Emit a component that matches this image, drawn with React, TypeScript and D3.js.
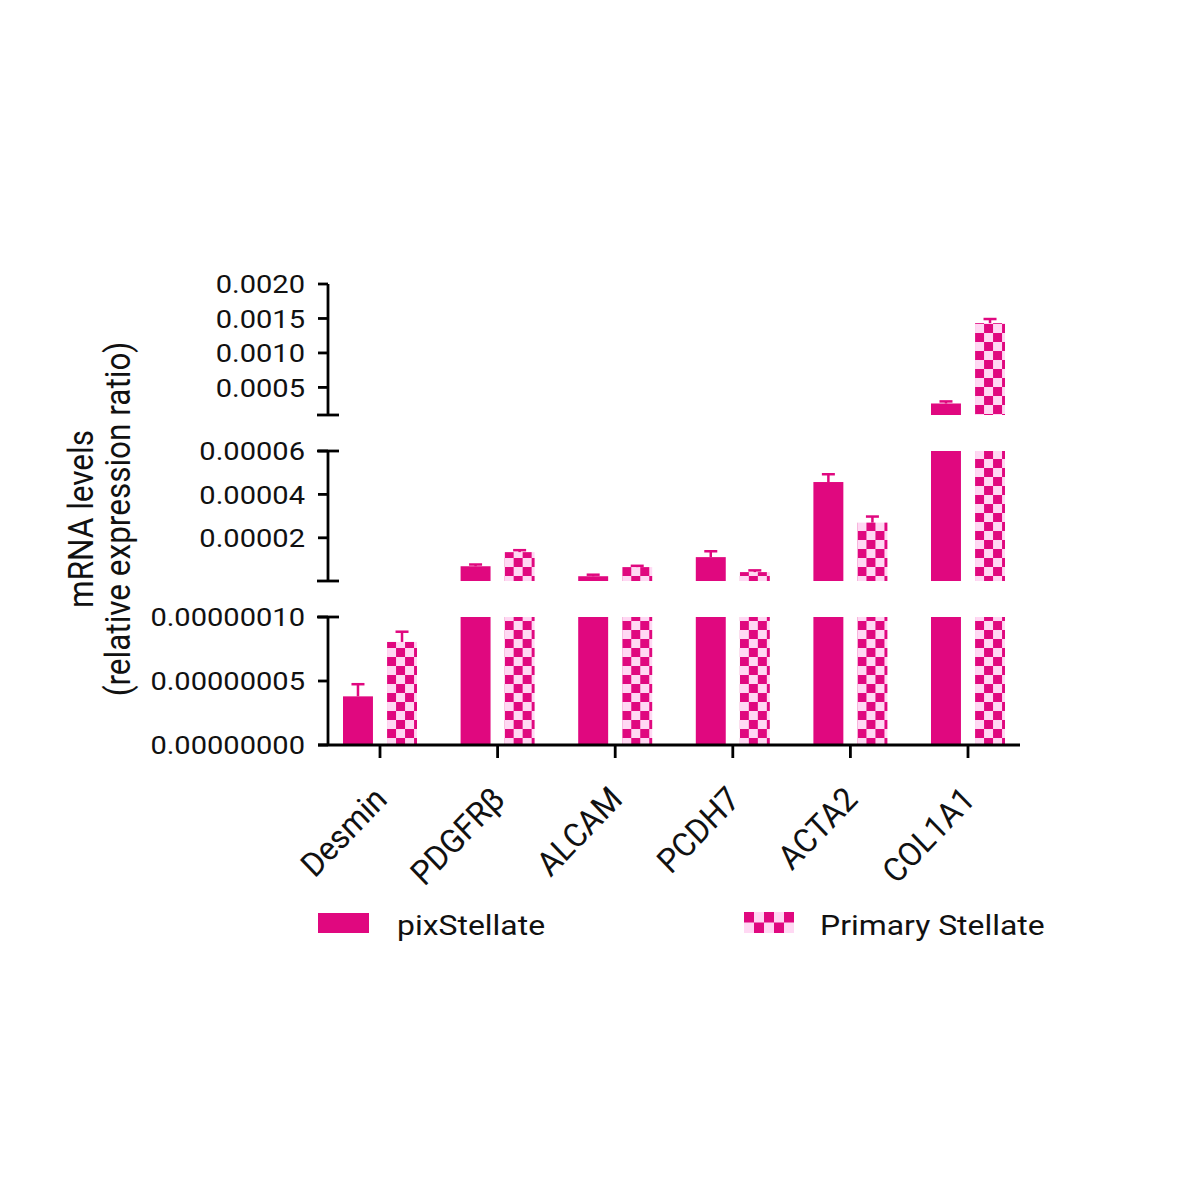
import React from "react";
import * as d3 from "d3";

const genes = ["Desmin", "PDGFRβ", "ALCAM", "PCDH7", "ACTA2", "COL1A1"];
const seriesNames = ["pixStellate", "Primary Stellate"];
const pixStellate = [3.8e-8, 6.9e-6, 2.3e-6, 11.1e-6, 45.7e-6, 2.67e-4];
const pixStellateErr = [0.95e-8, 0.8e-6, 0.7e-6, 2.7e-6, 3.6e-6, 0.3e-4];
const primaryStellate = [8.05e-8, 13.4e-6, 6.5e-6, 4.2e-6, 27.0e-6, 1.432e-3];
const primaryStellateErr = [0.8e-8, 0.9e-6, 0.6e-6, 0.8e-6, 2.8e-6, 0.06e-3];

const lowTicks = [0, 5e-8, 1e-7];
const midTicks = [2e-5, 4e-5, 6e-5];
const highTicks = [5e-4, 1e-3, 1.5e-3, 2e-3];

const MAGENTA = "#e0087f";
const PINK_LIGHT = "#ffd8f3";
const SX = 1.14;
const FONT = "Roboto, 'Liberation Sans', Arial, sans-serif";

const AXIS_X = 328;

const segments = [
  { scale: d3.scaleLinear().domain([0, 1e-7]).range([745, 617]), ticks: lowTicks, fmt: d3.format(".8f"), bottomCap: false, topCap: true },
  { scale: d3.scaleLinear().domain([1e-7, 6e-5]).range([581, 451]), ticks: midTicks, fmt: d3.format(".5f"), bottomCap: true, topCap: true },
  { scale: d3.scaleLinear().domain([1e-4, 2e-3]).range([415, 284]), ticks: highTicks, fmt: d3.format(".4f"), bottomCap: true, topCap: false },
];

const x0 = d3.scalePoint<string>().domain(genes).range([380, 968]);
const x1 = d3.scaleBand<string>().domain(seriesNames).range([-37, 37]).paddingInner(0.32);

const series = [
  { name: seriesNames[0], values: pixStellate, errs: pixStellateErr, checker: false },
  { name: seriesNames[1], values: primaryStellate, errs: primaryStellateErr, checker: true },
];

export default function App() {
  const bw = x1.bandwidth();
  return (
    <svg width={1200} height={1200} style={{ position: "absolute", left: 0, top: 0, background: "#fff" }} fontFamily={FONT}>
      <defs>
        {genes.map((g, i) => {
          const bx = (x0(g) as number) + (x1(seriesNames[1]) as number);
          return (
            <pattern key={g} id={`checker-${i}`} x={bx} y={0} width={18} height={18} patternUnits="userSpaceOnUse">
              <rect width={18} height={18} fill={PINK_LIGHT} />
              <rect x={9} y={0} width={9} height={9} fill={MAGENTA} />
              <rect x={0} y={9} width={9} height={9} fill={MAGENTA} />
            </pattern>
          );
        })}
        <pattern id="checker-legend" x={744} y={912} width={20} height={21} patternUnits="userSpaceOnUse">
          <rect width={20} height={21} fill={PINK_LIGHT} />
          <rect x={0} y={0} width={10} height={10.5} fill={MAGENTA} />
          <rect x={10} y={10.5} width={10} height={10.5} fill={MAGENTA} />
        </pattern>
      </defs>
      <rect width={1200} height={1200} fill="#fff" />

      {/* bars */}
      {series.map((s) =>
        genes.map((g, i) => {
          const v = s.values[i];
          const bx = (x0(g) as number) + (x1(s.name) as number);
          const fill = s.checker ? `url(#checker-${i})` : MAGENTA;
          return segments.map((seg, k) => {
            const [d0, d1] = seg.scale.domain();
            if (v <= d0) return null;
            const top = seg.scale(Math.min(v, d1));
            const bot = seg.scale(d0);
            return <rect key={`${s.name}-${g}-${k}`} x={bx} y={top} width={bw} height={bot - top} fill={fill} />;
          });
        })
      )}

      {/* error bars */}
      {series.map((s) =>
        genes.map((g, i) => {
          const v = s.values[i];
          const e = s.errs[i];
          const seg = segments.find((sg) => v > sg.scale.domain()[0] && v <= sg.scale.domain()[1]) || segments[0];
          const cx = (x0(g) as number) + (x1(s.name) as number) + bw / 2;
          const yv = seg.scale(v);
          const ye = seg.scale(v + e);
          return (
            <g key={`err-${s.name}-${g}`} stroke={MAGENTA} strokeWidth={2.5}>
              <line x1={cx} x2={cx} y1={yv} y2={ye} />
              <line x1={cx - 6.5} x2={cx + 6.5} y1={ye} y2={ye} />
            </g>
          );
        })
      )}

      {/* y axis segments */}
      {segments.map((seg, k) => {
        const [d0, d1] = seg.scale.domain();
        return (
          <g key={`ax-${k}`} stroke="#000" strokeWidth={2.8}>
            <line x1={AXIS_X} x2={AXIS_X} y1={seg.scale(d0)} y2={seg.scale(d1)} />
            {seg.ticks.map((t) => (
              <line key={t} x1={AXIS_X - 10} x2={AXIS_X} y1={seg.scale(t)} y2={seg.scale(t)} />
            ))}
            {seg.topCap && <line x1={AXIS_X - 11} x2={AXIS_X + 11} y1={seg.scale(d1)} y2={seg.scale(d1)} />}
            {seg.bottomCap && <line x1={AXIS_X - 11} x2={AXIS_X + 11} y1={seg.scale(d0)} y2={seg.scale(d0)} />}
          </g>
        );
      })}
      {segments.map((seg, k) =>
        seg.ticks.map((t) => (
          <g key={`tl-${k}-${t}`} transform={`translate(${AXIS_X - 23},${seg.scale(t)}) scale(${SX},1)`}>
            <text textAnchor="end" dy="0.36em" fontSize={25.5} fill="#111">
              {seg.fmt(t)}
            </text>
          </g>
        ))
      )}

      {/* x axis */}
      <g stroke="#000" strokeWidth={2.8}>
        <line x1={AXIS_X - 10} x2={1020} y1={745} y2={745} />
        {genes.map((g) => (
          <line key={g} x1={x0(g)} x2={x0(g)} y1={745} y2={758} />
        ))}
      </g>
      {genes.map((g) => (
        <g key={`xl-${g}`} transform={`translate(${(x0(g) as number) + 10},800) scale(${SX},1) rotate(-50)`}>
          <text textAnchor="end" fontSize={31} fontStyle="italic" fill="#111">
            {g}
          </text>
        </g>
      ))}

      {/* y title */}
      <g transform={`translate(93,519) scale(${SX},1) rotate(-90)`}>
        <text textAnchor="middle" fontSize={31.5} fill="#111">mRNA levels</text>
      </g>
      <g transform={`translate(130,519) scale(${SX},1) rotate(-90)`}>
        <text textAnchor="middle" fontSize={31.5} fill="#111">(relative expression ratio)</text>
      </g>

      {/* legend */}
      <rect x={318} y={913} width={51} height={20} fill={MAGENTA} />
      <g transform={`translate(397,935) scale(${SX},1)`}>
        <text fontSize={28} fill="#111">{seriesNames[0]}</text>
      </g>
      <rect x={744} y={912} width={50} height={21} fill="url(#checker-legend)" />
      <g transform={`translate(820,935) scale(${SX},1)`}>
        <text fontSize={28} fill="#111">{seriesNames[1]}</text>
      </g>
    </svg>
  );
}
